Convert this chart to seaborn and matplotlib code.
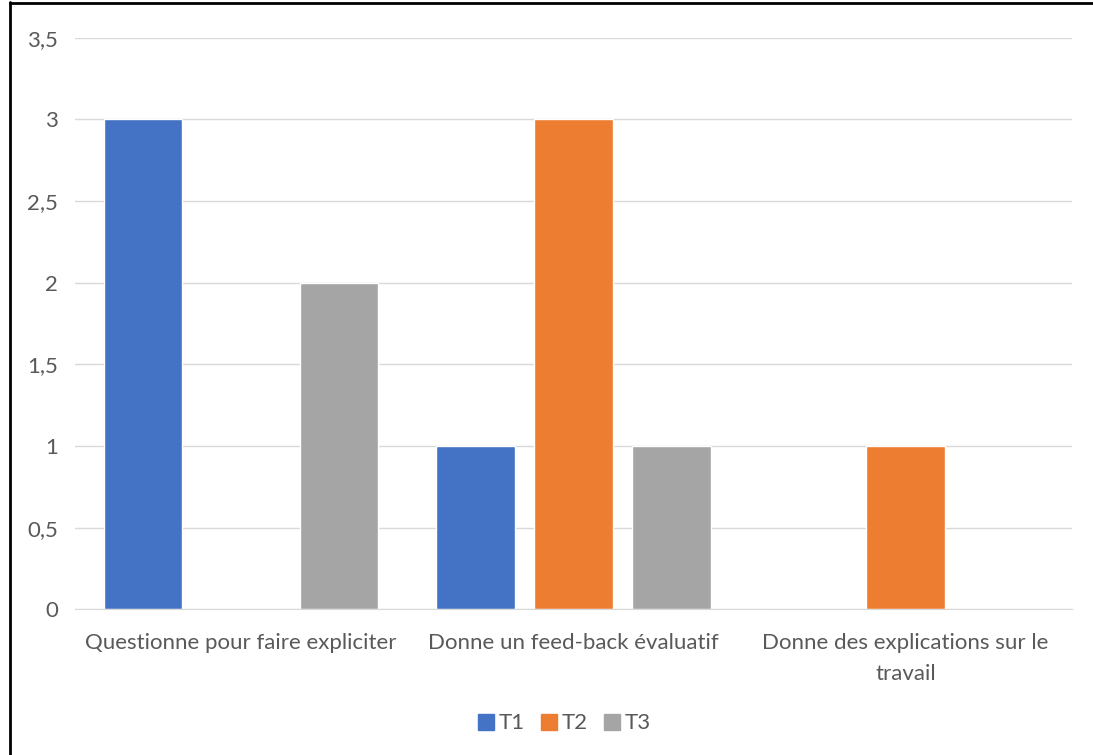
import matplotlib
matplotlib.use("Agg")
import matplotlib.pyplot as plt
import seaborn as sns
import pandas as pd
from matplotlib.lines import Line2D
from matplotlib.ticker import FuncFormatter

categories = ["Questionne pour faire expliciter", "Donne un feed-back évaluatif",
              "Donne des explications sur le\ntravail"]
series = ["T1", "T2", "T3"]
t1 = [3, 1, 0]
t2 = [0, 3, 1]
t3 = [2, 1, 0]
colors = ["#4472C4", "#ED7D31", "#A5A5A5"]

rows = []
for s, vals in zip(series, [t1, t2, t3]):
    for c, v in zip(categories, vals):
        rows.append({"cat": c, "serie": s, "val": v})
df = pd.DataFrame(rows)

sns.set_style("white")
plt.rcParams["font.family"] = ["Lato", "DejaVu Sans"]
text_color = "#595959"

fig = plt.figure(figsize=(10.93, 7.55), dpi=100)
ax = fig.add_axes([0.0686, 0.193, 0.912, 0.757])

sns.barplot(data=df, x="cat", y="val", hue="serie", palette=colors,
            width=0.885, gap=0.2, ax=ax, legend=False, saturation=1)

ax.set_ylim(0, 3.5)
ax.set_xlim(-0.5, 2.5)
ax.set_yticks([0, 0.5, 1, 1.5, 2, 2.5, 3, 3.5])
ax.yaxis.set_major_formatter(FuncFormatter(lambda v, p: f"{v:g}".replace(".", ",")))
ax.grid(axis="y", color="#d9d9d9", linewidth=1)
ax.set_axisbelow(True)
for sp in ["top", "right", "left"]:
    ax.spines[sp].set_visible(False)
ax.spines["bottom"].set_color("#d9d9d9")
ax.tick_params(axis="both", length=0, labelsize=16, colors=text_color)
ax.tick_params(axis="x", pad=17)
ax.tick_params(axis="y", pad=12)
ax.set_xlabel("")
ax.set_ylabel("")
for lbl in ax.get_xticklabels():
    lbl.set_linespacing(1.7)

handles = [Line2D([0], [0], marker="s", linestyle="", markersize=11,
                  markerfacecolor=c, markeredgecolor=c) for c in colors]
fig.legend(handles, series, loc="center", bbox_to_anchor=(0.515, 0.042), ncol=3,
           frameon=False, fontsize=16, labelcolor=text_color,
           handletextpad=0.05, columnspacing=0.6, handlelength=1.0)

# outer frame (left/top edges visible in the reference)
fig.add_artist(Line2D([0.0095, 0.0095], [0, 0.998], color="black", linewidth=2,
                      transform=fig.transFigure))
fig.add_artist(Line2D([0.0095, 1.0], [0.996, 0.996], color="black", linewidth=2,
                      transform=fig.transFigure))

fig.savefig("out.png", dpi=100)
